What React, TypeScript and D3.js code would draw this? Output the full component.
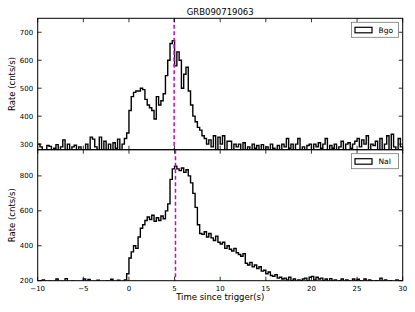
import React from 'react';
import * as d3 from 'd3';

// bin start times: -10 .. 29.75 in 0.25 s steps
const binWidth = 0.25;
const tStart = -10;

// BGO light curve (cnts/s), 4 bins per second
const bgoRates = [
  300, 290, 275, 270, 295, 292, 270, 285, 298, 275, 290, 315, 280, 300, 270, 290,
  296, 275, 290, 270, 280, 300, 270, 325, 318, 290, 270, 325, 270, 310, 275, 300,
  270, 305, 285, 318, 270, 300, 320, 340, 420, 470, 485, 490, 490, 500, 495, 460,
  440, 430, 420, 390, 470, 440, 455, 480, 545, 600, 660, 670, 580, 630, 600, 500,
  550, 575, 490, 440, 400, 380, 360, 350, 330, 320, 300, 315, 290, 330, 280, 325,
  300, 330, 280, 310, 310, 280, 300, 290, 300, 275, 305, 280, 290, 270, 300, 285,
  295, 280, 298, 270, 290, 275, 300, 285, 280, 295, 278, 300, 290, 320, 285, 300,
  270, 300, 320, 275, 290, 270, 295, 300, 280, 300, 290, 305, 285, 300, 320, 275,
  295, 285, 300, 270, 290, 310, 275, 300, 305, 285, 300, 310, 320, 290, 315, 300,
  330, 270, 300, 295, 310, 280, 320, 275, 300, 330, 270, 335, 290, 280, 320, 290,
];

// NaI light curve (cnts/s)
const naiRates = [
  195, 198, 205, 195, 190, 197, 193, 196, 210, 192, 196, 190, 212, 195, 190, 197,
  192, 196, 190, 195, 210, 193, 207, 190, 196, 192, 203, 190, 195, 190, 198, 192,
  208, 195, 190, 203, 192, 196, 205, 240, 330, 365, 400, 385, 450, 500, 520, 545,
  565, 550, 575, 540, 560, 545, 570, 555, 600, 640, 780, 840, 855, 840, 830, 845,
  820, 835, 800, 760, 700, 620, 520, 470, 465, 480, 450, 470, 445, 430, 455, 420,
  410, 420, 385, 400, 380, 370, 385, 360, 350, 340, 355, 300, 290, 305, 280, 290,
  270, 280, 255, 260, 240, 250, 230, 225, 235, 215, 220, 210, 215, 205, 220, 200,
  210, 195, 205, 200, 210, 215, 200, 220, 225, 205, 220, 210, 215, 200, 210, 195,
  212, 198, 205, 190, 200, 210, 195, 205, 198, 192, 210, 195, 208, 200, 196, 210,
  193, 205, 198, 190, 200, 196, 215, 195, 205, 190, 200, 196, 193, 205, 190, 198,
];

const xTicks = [-10, -5, 0, 5, 10, 15, 20, 25, 30];
const bgoTicks = [300, 400, 500, 600, 700];
const naiTicks = [200, 400, 600, 800];
const bgoPeak = 4.95;
const naiPeak = 5.1;

const W = 415;
const H = 312;
const left = 37.7;
const right = 402.7;
const top1 = 18.3;
const mid = 149.7;
const bottom = 280.7;
const font = 'DejaVu Sans, sans-serif';

const x = d3.scaleLinear().domain([-10, 30]).range([left, right]);

type PanelProps = {
  id: string;
  rates: number[];
  ticks: number[];
  domain: [number, number];
  y0: number;
  y1: number;
  peak: number;
  label: string;
  showX: boolean;
};

const Panel = ({ id, rates, ticks, domain, y0, y1, peak, label, showX }: PanelProps) => {
  const y = d3.scaleLinear().domain(domain).range([y1, y0]);
  const pts: [number, number][] = rates.map((v, i) => [tStart + i * binWidth, v]);
  pts.push([tStart + rates.length * binWidth, rates[rates.length - 1]]);
  const line = d3.line<[number, number]>()
    .x(d => x(d[0]))
    .y(d => y(d[1]))
    .curve(d3.curveStepAfter);
  const tl = 4;
  const lx = 351.5;
  const ly = y0 + 4;
  return (
    <g>
      <defs>
        <clipPath id={id}>
          <rect x={left} y={y0} width={right - left} height={y1 - y0} />
        </clipPath>
      </defs>
      <g clipPath={`url(#${id})`}>
        <path d={line(pts) ?? ''} fill="none" stroke="#000" strokeWidth={1.4} strokeLinejoin="miter" />
        <line x1={x(peak)} x2={x(peak)} y1={y0} y2={y1} stroke="#d000d0" strokeWidth={1.5} strokeDasharray="4,2.5" />
      </g>
      <rect x={left} y={y0} width={right - left} height={y1 - y0} fill="none" stroke="#000" strokeWidth={1} />
      {xTicks.map(t => (
        <g key={`x${t}`}>
          <line x1={x(t)} x2={x(t)} y1={y1} y2={y1 - tl} stroke="#000" strokeWidth={0.8} />
          <line x1={x(t)} x2={x(t)} y1={y0} y2={y0 + tl} stroke="#000" strokeWidth={0.8} />
          {showX && (
            <text x={x(t)} y={y1 + 10} textAnchor="middle" fontSize={7} fontFamily={font} fill="#000">
              {t < 0 ? `\u2212${-t}` : t}
            </text>
          )}
        </g>
      ))}
      {ticks.map(v => (
        <g key={`y${v}`}>
          <line x1={left} x2={left + tl} y1={y(v)} y2={y(v)} stroke="#000" strokeWidth={0.8} />
          <line x1={right} x2={right - tl} y1={y(v)} y2={y(v)} stroke="#000" strokeWidth={0.8} />
          <text x={left - 4.5} y={y(v) + 2.5} textAnchor="end" fontSize={7} fontFamily={font} fill="#000">
            {v}
          </text>
        </g>
      ))}
      <text
        transform={`translate(12.5,${(y0 + y1) / 2}) rotate(-90)`}
        textAnchor="middle"
        dominantBaseline="middle"
        fontSize={8.5}
        fontFamily={font}
        fill="#000"
      >
        Rate (cnts/s)
      </text>
      <rect x={lx} y={ly} width={47} height={15} fill="#fff" stroke="#777" strokeWidth={0.8} />
      <rect x={lx + 3.5} y={ly + 5} width={17} height={5.5} fill="none" stroke="#000" strokeWidth={1.2} />
      <text x={lx + 27} y={ly + 10.5} fontSize={7.5} fontFamily={font} fill="#000">
        {label}
      </text>
    </g>
  );
};

const App = () => (
  <svg width={W} height={H} viewBox={`0 0 ${W} ${H}`} style={{ position: 'absolute', left: 0, top: 0 }}>
    <rect width={W} height={H} fill="#fff" />
    <text x={(left + right) / 2} y={15} textAnchor="middle" fontSize={8.5} fontFamily={font} fill="#000">
      GRB090719063
    </text>
    <Panel id="c1" rates={bgoRates} ticks={bgoTicks} domain={[280, 750]} y0={top1} y1={mid} peak={bgoPeak} label="Bgo" showX={false} />
    <Panel id="c2" rates={naiRates} ticks={naiTicks} domain={[200, 950]} y0={mid} y1={bottom} peak={naiPeak} label="NaI" showX={true} />
    <text x={(left + right) / 2} y={300} textAnchor="middle" fontSize={8.5} fontFamily={font} fill="#000">
      Time since trigger(s)
    </text>
  </svg>
);

export default App;
